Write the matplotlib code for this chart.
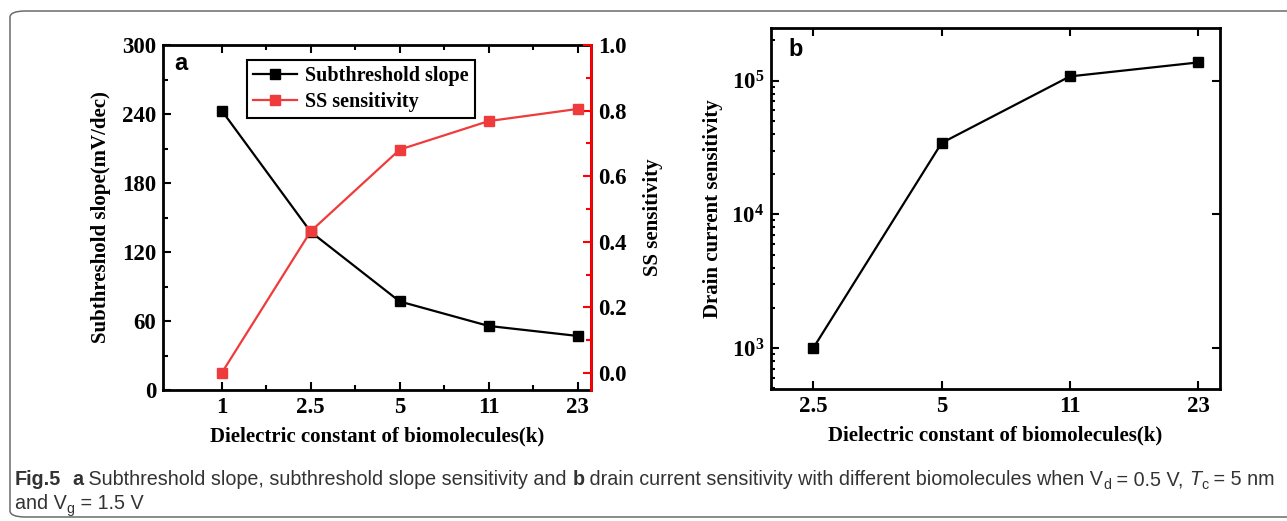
import math
import matplotlib
matplotlib.use("Agg")
import matplotlib.pyplot as plt
from matplotlib import font_manager
from matplotlib.patches import FancyBboxPatch
from matplotlib.ticker import FixedLocator, LogLocator, FuncFormatter, NullFormatter, MultipleLocator

# ---- data ----
k_labels_a = ["1", "2.5", "5", "11", "23"]
subthreshold_slope = [243, 137.5, 77, 55.7, 47]          # mV/dec
ss_sensitivity = [0.0, 0.432, 0.681, 0.768, 0.805]

k_labels_b = ["2.5", "5", "11", "23"]
drain_current_sensitivity = [1000, 34200, 107700, 137000]

W, H = 1287, 521
DPI = 100
plt.rcParams["font.family"] = ["Liberation Serif", "DejaVu Serif"]
plt.rcParams["font.weight"] = "bold"
plt.rcParams["mathtext.fontset"] = "custom"
plt.rcParams["mathtext.rm"] = "Liberation Serif:bold"
plt.rcParams["mathtext.bf"] = "Liberation Serif:bold"
plt.rcParams["mathtext.it"] = "Liberation Serif:bold:italic"

fig = plt.figure(figsize=(W / DPI, H / DPI), dpi=DPI)


def px_axes(l, t, r, b):
    return fig.add_axes([l / W, 1 - b / H, (r - l) / W, (b - t) / H])


TICK_FS = 16.5
LABEL_FS = 15
RED_LINE = "#ef3b3b"
RED_AX = "#ff0000"

# ---- panel a ----
ax = px_axes(163, 45, 591, 390)
xa = list(range(len(k_labels_a)))
ax.plot(xa, subthreshold_slope, color="black", lw=1.6, marker="s", ms=6.5,
        label="Subthreshold slope", zorder=3)
ax.set_xlim(-0.66, 4.15)
ax.set_ylim(0, 300)
ax.set_xticks(xa)
ax.set_xticklabels(k_labels_a)
ax.xaxis.set_minor_locator(FixedLocator([x + 0.5 for x in xa[:-1]]))
ax.yaxis.set_major_locator(MultipleLocator(60))
ax.yaxis.set_minor_locator(MultipleLocator(30))
ax.tick_params(which="both", direction="in", top=True, right=False, labelsize=TICK_FS, width=1.5)
ax.tick_params(which="major", length=6, pad=5)
ax.tick_params(which="minor", length=3.5)
for s in ax.spines.values():
    s.set_linewidth(2)
ax.set_xlabel("Dielectric constant of biomolecules(k)", fontsize=LABEL_FS, fontweight="bold", labelpad=6)
ax.set_ylabel("Subthreshold slope(mV/dec)", fontsize=LABEL_FS, fontweight="bold", labelpad=8)

ax2 = ax.twinx()
ax2.plot(xa, ss_sensitivity, color=RED_LINE, lw=1.6, marker="s", ms=6.5,
         label="SS sensitivity", zorder=3)
ax2.set_ylim(-0.052, 1.0)
ax2.yaxis.set_major_locator(MultipleLocator(0.2))
ax2.yaxis.set_minor_locator(MultipleLocator(0.1))
ax2.yaxis.set_major_formatter(FuncFormatter(lambda v, p: f"{v:.1f}"))
ax2.tick_params(which="both", direction="in", labelsize=TICK_FS, color=RED_AX, width=1.5)
ax2.tick_params(which="major", length=6, pad=5)
ax2.tick_params(which="minor", length=3.5)
ax2.spines["right"].set_color(RED_AX)
ax2.spines["right"].set_linewidth(2)
for side in ("left", "top", "bottom"):
    ax2.spines[side].set_visible(False)
ax2.set_ylabel("SS sensitivity", fontsize=LABEL_FS, fontweight="bold", labelpad=12)

h1, l1 = ax.get_legend_handles_labels()
h2, l2 = ax2.get_legend_handles_labels()
leg = ax2.legend(h1 + h2, l1 + l2, loc="upper left", bbox_to_anchor=((247 - 163) / 428, 1 - (60 - 45) / 345),
                 fancybox=False, edgecolor="black", framealpha=1, borderaxespad=0,
                 prop={"family": "Liberation Serif", "weight": "bold", "size": 14.5},
                 handlelength=2.2, handletextpad=0.4, borderpad=0.3, labelspacing=0.3)
leg.get_frame().set_linewidth(1.5)

ax.text((181 - 163) / 428, 1 - (63 - 45) / 345, "a", transform=ax.transAxes, fontsize=17,
        fontweight="bold", family="Liberation Sans", ha="center", va="center")

# ---- panel b ----
bx = px_axes(771, 28, 1220, 389)
xb = list(range(len(k_labels_b)))
bx.plot(xb, drain_current_sensitivity, color="black", lw=1.6, marker="s", ms=6.5, zorder=3)
bx.set_yscale("log")
bx.set_xlim(-0.33, 3.17)
bx.set_ylim(493, 2.48e5)
bx.set_xticks(xb)
bx.set_xticklabels(k_labels_b)
bx.xaxis.set_minor_locator(FixedLocator([]))
bx.yaxis.set_major_locator(LogLocator(base=10, numticks=10))
bx.yaxis.set_minor_locator(LogLocator(base=10, subs=range(2, 10), numticks=10))
bx.yaxis.set_major_formatter(FuncFormatter(lambda v, p: r"$\mathbf{10^{%d}}$" % round(math.log10(v))))
bx.yaxis.set_minor_formatter(NullFormatter())
bx.tick_params(which="both", direction="in", top=True, right=True, labelsize=TICK_FS, width=1.5)
bx.tick_params(which="major", length=6, pad=5)
bx.tick_params(which="minor", length=3)
bx.tick_params(which="minor", right=False)
for s in bx.spines.values():
    s.set_linewidth(2)
bx.set_xlabel("Dielectric constant of biomolecules(k)", fontsize=LABEL_FS, fontweight="bold", labelpad=6)
bx.set_ylabel("Drain current sensitivity", fontsize=LABEL_FS, fontweight="bold", labelpad=6)
bx.text((796 - 771) / 449, 1 - (50 - 28) / 361, "b", transform=bx.transAxes, fontsize=17,
        fontweight="bold", family="Liberation Sans", ha="center", va="center")

# ---- frame ----
frame = FancyBboxPatch((10 / W, 1 - 517 / H), (1320 - 10) / W, (517 - 11) / H,
                       boxstyle="round,pad=0,rounding_size=0.012", transform=fig.transFigure,
                       facecolor="none", edgecolor="#6b6b6b", lw=1.1, clip_on=False)
fig.patches.append(frame)

# ---- caption ----
avail = {f.name for f in font_manager.fontManager.ttflist}
CAP_FAM = "Liberation Sans Narrow" if "Liberation Sans Narrow" in avail else "Liberation Sans"
CAP_FS = 14.2
CAP_COL = "#333333"

fig.canvas.draw()
renderer = fig.canvas.get_renderer()


def draw_runs(x0, y0, runs):
    x = x0
    for txt, opts in runs:
        sub = opts.get("sub", False)
        fs = CAP_FS * (0.72 if sub else 1.0)
        yy = y0 + (4 if sub else 0)
        t = fig.text(x / W, 1 - yy / H, txt, fontsize=fs, family=CAP_FAM, color=CAP_COL,
                     fontweight=opts.get("weight", "normal"), fontstyle=opts.get("style", "normal"),
                     va="baseline", ha="left")
        x += t.get_window_extent(renderer).width


B = {"weight": "bold"}
N = {}
draw_runs(15, 485, [
    ("Fig.5", B), ("  ", N), ("a", B),
    (" Subthreshold slope, subthreshold slope sensitivity and ", N), ("b", B),
    (" drain current sensitivity with different biomolecules when V", N), ("d", {"sub": True}),
    (" = 0.5 V, ", N), ("T", {"style": "italic"}), ("c", {"sub": True}), (" = 5 nm", N),
])
draw_runs(15, 509, [("and V", N), ("g", {"sub": True}), (" = 1.5 V", N)])

fig.savefig("out.png", dpi=DPI)
